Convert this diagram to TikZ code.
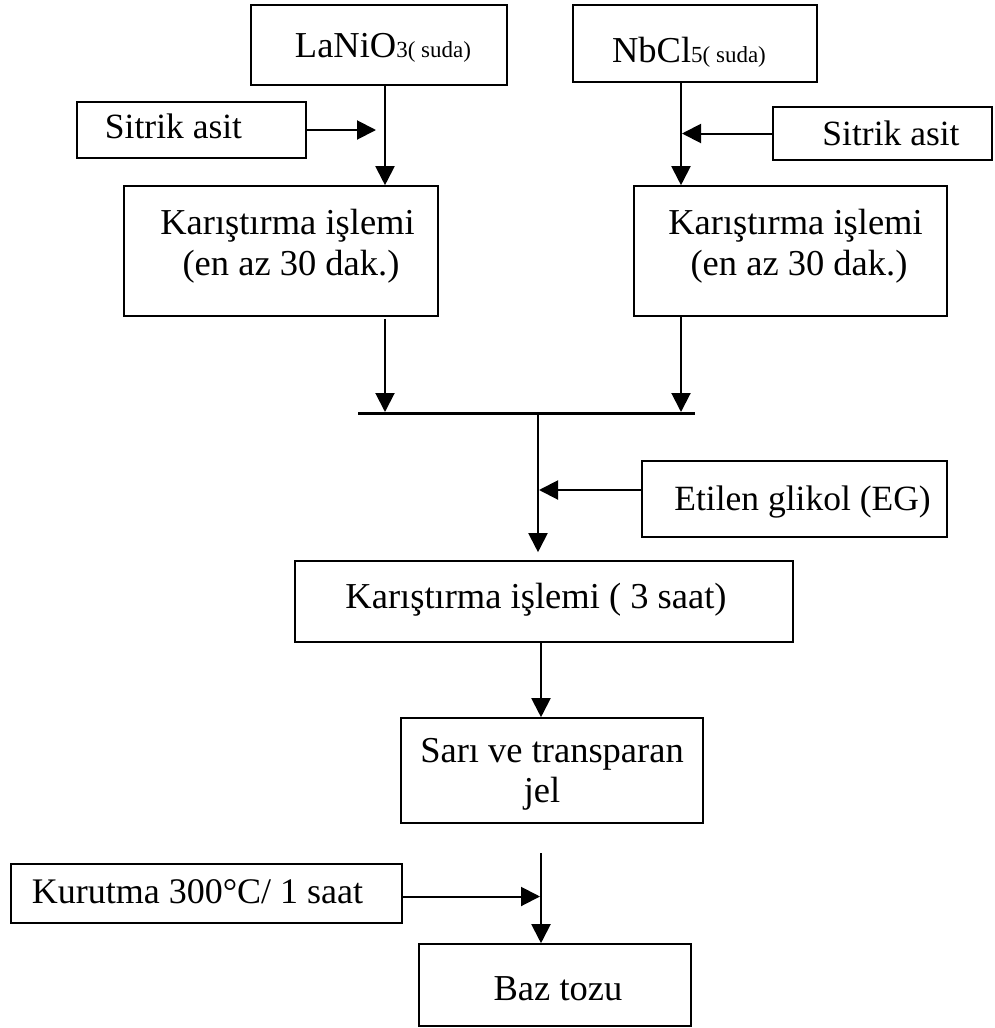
\documentclass[tikz,border=0pt]{standalone}
\usepackage{fontspec}
\setmainfont{Liberation Serif}
\usetikzlibrary{arrows.meta,calc}
\begin{document}
\begin{tikzpicture}[x=1pt,y=-1pt,
  box/.style={draw,line width=1.6pt,inner sep=0pt,rectangle},
  lbl/.style={anchor=base,inner sep=0pt,font=\fontsize{36.5}{40}\selectfont},
  arr/.style={line width=2pt,-{Triangle[length=19pt,width=19pt]}},
  bar/.style={line width=3pt}]
\useasboundingbox (0,0) rectangle (994,1028);
% boxes
\node[box,minimum width=256,minimum height=80] (lanio) at (379,45) {};
\node[box,minimum width=244,minimum height=77] (nbcl) at (695,43.5) {};
\node[box,minimum width=229,minimum height=56] (sitL) at (191.5,130) {};
\node[box,minimum width=219,minimum height=53] (sitR) at (882.5,133.5) {};
\node[box,minimum width=314,minimum height=130] (karL) at (281,251) {};
\node[box,minimum width=313,minimum height=130] (karR) at (790.5,251) {};
\node[box,minimum width=305,minimum height=76] (eg) at (794.5,499) {};
\node[box,minimum width=498,minimum height=81] (karS) at (544,601.5) {};
\node[box,minimum width=302,minimum height=105] (sari) at (552,770.5) {};
\node[box,minimum width=391,minimum height=59] (kur) at (206.5,893.5) {};
\node[box,minimum width=272,minimum height=82] (baz) at (555,985) {};
% texts
\node[lbl] (lanio-t) at (383,57) {LaNiO{\fontsize{23}{26}\selectfont 3( suda)}};
\node[lbl] (nbcl-t) at (689,62) {NbCl{\fontsize{23}{26}\selectfont 5( suda)}};
\node[lbl,font=\fontsize{35.5}{40}\selectfont] (sitL-t) at (173.5,138) {Sitrik asit};
\node[lbl,font=\fontsize{35.5}{40}\selectfont] (sitR-t) at (891,145) {Sitrik asit};
\node[lbl] (karL-t1) at (287.5,234) {Karıştırma işlemi};
\node[lbl] (karL-t2) at (291,275) {(en az 30 dak.)};
\node[lbl] (karR-t1) at (795.5,234) {Karıştırma işlemi};
\node[lbl] (karR-t2) at (799,275) {(en az 30 dak.)};
\node[lbl,font=\fontsize{35.5}{40}\selectfont] (eg-t) at (802.5,510) {Etilen glikol (EG)};
\node[lbl] (karS-t) at (536,608) {Karıştırma işlemi ( 3 saat)};
\node[lbl] (sari-t1) at (552,762) {Sarı ve transparan};
\node[lbl] (sari-t2) at (542,802) {jel};
\node[lbl,font=\fontsize{36}{40}\selectfont] (kur-t) at (197.5,903) {Kurutma 300°C/ 1 saat};
\node[lbl] (baz-t) at (558,1000) {Baz tozu};
% helper coordinates
\coordinate (xL) at (385,0);
\coordinate (xR) at (681,0);
\coordinate (xM) at (538,0);
\coordinate (xB) at (541,0);
\coordinate (joinL) at (358,413);
\coordinate (joinR) at (695,413);
\coordinate (kurtop) at (541,853);
% connectors
\draw[arr] (lanio.south -| xL) -- (karL.north -| xL);
\draw[arr] (sitL.east) -- ($(sitL.east -| xL)+(-9,0)$);
\draw[arr] (nbcl.south -| xR) -- (karR.north -| xR);
\draw[arr] (sitR.west) -- ($(sitR.west -| xR)+(1,0)$);
\draw[arr] ($(karL.south -| xL)+(0,2)$) -- ($(joinL -| xL)+(0,-1)$);
\draw[arr] (karR.south -| xR) -- ($(joinL -| xR)+(0,-1)$);
\draw[bar] (joinL) -- (joinR);
\draw[arr] (joinL -| xM) -- ($(karS.north -| xM)+(0,-8)$);
\draw[arr] ($(eg.west)+(0,-9)$) -- ($(eg.west -| xM)+(1,-9)$);
\draw[arr] (karS.south -| xB) -- (sari.north -| xB);
\draw[arr] (kurtop) -- (baz.north -| kurtop);
\draw[arr] ($(kur.east)+(0,3)$) -- ($(kur.east -| kurtop)+(-1,3)$);
\end{tikzpicture}
\end{document}
